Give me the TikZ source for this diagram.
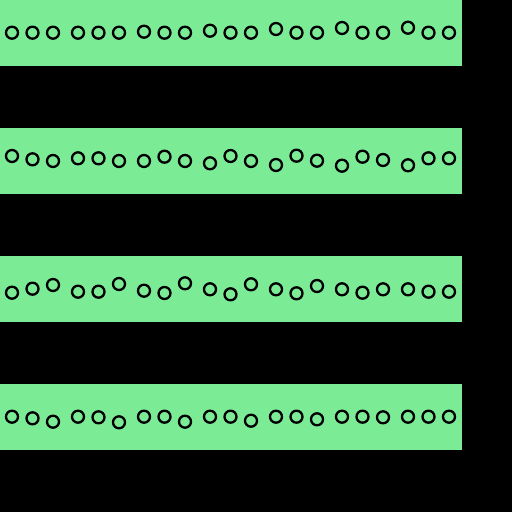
\documentclass[tikz,border=0pt]{standalone}
\definecolor{bandgreen}{RGB}{123,235,150}
\tikzset{
  band/.style={fill=bandgreen, draw=none},
  ring/.style={circle, draw=black, line width=2.3pt, minimum size=12pt, inner sep=0pt, outer sep=0pt}
}
\begin{document}
\begin{tikzpicture}[x=1pt, y=-1pt]
\fill[black] (0,0) rectangle (512,512);
\useasboundingbox (0,0) rectangle (512,512);
\foreach \k in {0,1,2,3}{
  \fill[band] (0,128*\k) rectangle (462,128*\k+65.5);
}
\newcommand{\ringrow}[2]{%
  \foreach \y [count=\i] in {#2}{
    \pgfmathsetmacro\xx{12+66*int((\i-1)/3)+20.5*mod(\i-1,3)}
    \node[ring] (r#1c\i) at (\xx,\y) {};
  }%
}
\ringrow{1}{32.7,32.7,32.7,32.7,32.7,32.7,31.7,32.7,32.7,30.7,32.7,32.7,29,32.7,32.7,28,32.7,32.7,27.7,32.7,32.7}
\ringrow{2}{156,159.3,161,158.3,158.3,161,161,156.7,161,163.3,156,161,165,155.7,160.7,165.7,156.7,160,165.3,158.3,158.3}
\ringrow{3}{292.7,288.7,285,291.7,291.7,284,290.7,293,283.3,289.3,294.3,284.3,289.3,293.3,286,289.3,292.7,289.3,289.3,291.7,291.7}
\ringrow{4}{416.7,418.3,421.7,416.7,417.3,422.3,416.7,416.7,421.7,416.7,416.7,420.7,416.7,416.7,419.3,416.7,416.7,417.3,416.7,416.7,416.7}
\end{tikzpicture}
\end{document}
